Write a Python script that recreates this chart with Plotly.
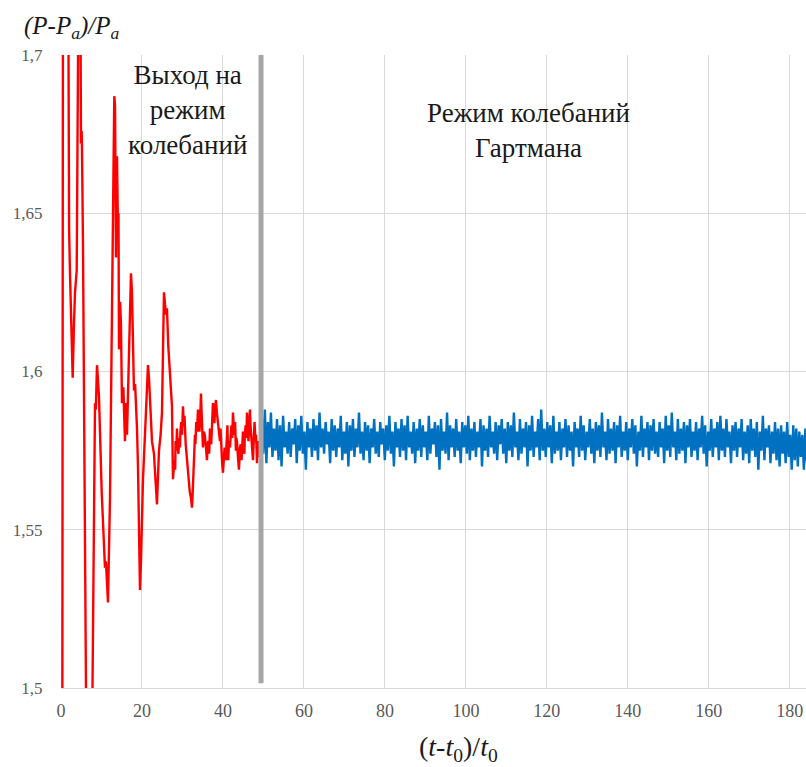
import plotly.graph_objects as go

# ---------------- data ----------------
# transient ("Выход на режим колебаний") part, red
red_t = [0.2, 0.6, 1.2, 1.73, 2.0, 2.22, 2.5, 2.89, 3.2, 3.46, 3.88, 4.2, 4.6, 4.94, 5.1, 5.19,
         5.43, 6.17, 6.67, 7.41, 7.78, 8.40, 8.6, 8.89, 9.1, 9.38, 10.05, 10.86, 11.1, 11.36,
         11.60, 12.10, 12.59, 12.9, 13.16, 13.35, 13.58, 13.83, 14.07, 14.2, 14.32, 14.6, 14.81,
         15.06, 15.4, 15.80, 16.05, 16.30, 16.79, 17.28, 17.53, 17.8, 18.02, 18.3, 18.52, 18.77,
         19.01, 19.51, 19.75, 20.25, 20.74, 21.1, 21.48, 21.73, 22.1, 22.47, 22.96, 23.3, 23.70,
         24.20, 24.6, 24.94, 25.43, 25.93, 26.17, 26.5, 26.91, 27.41, 27.65,
         28.0, 28.2, 28.3, 28.5, 28.64, 28.8, 29.0, 29.2, 29.38, 29.5, 29.7, 29.9, 30.12, 30.3,
         30.4, 30.5, 30.62, 30.8, 31.0, 31.2, 31.36, 31.6, 31.8, 32.1, 32.35, 32.5, 32.7, 32.9,
         33.09, 33.2, 33.4, 33.6, 33.83, 34.0, 34.2, 34.4, 34.57, 34.7, 34.8, 34.9, 35.06, 35.3,
         35.5, 35.8, 36.05, 36.2, 36.4, 36.6, 36.79, 36.9, 37.1, 37.3, 37.53, 37.7, 37.9, 38.1,
         38.27, 38.5, 38.7, 39.0, 39.26, 39.4, 39.6, 39.8, 40.0, 40.2, 40.4, 40.7, 40.99, 41.1,
         41.3, 41.5, 41.73, 41.9, 42.1, 42.3, 42.47, 42.7, 42.9, 43.0, 43.2, 43.3, 43.46, 43.7,
         43.95, 44.2, 44.4, 44.6, 44.94, 45.1, 45.3, 45.4, 45.6, 45.8, 45.93, 46.1, 46.3, 46.5,
         46.67, 46.8, 47.0, 47.2, 47.41, 47.6, 47.8, 48.0, 48.15, 48.3, 48.40, 48.6, 48.8, 49.0,
         49.2]
red_p = [1.30, 1.90, 1.95, 1.70, 1.645, 1.631, 1.620, 1.598, 1.615, 1.625, 1.632, 1.75, 1.78,
         1.672, 1.676, 1.670, 1.64, 1.50, 1.42, 1.43, 1.50, 1.59, 1.588, 1.602, 1.598, 1.592,
         1.562, 1.538, 1.540, 1.533, 1.527, 1.560, 1.620, 1.660, 1.687, 1.684, 1.636, 1.668,
         1.644, 1.650, 1.607, 1.622, 1.615, 1.590, 1.595, 1.578, 1.590, 1.580, 1.610, 1.631,
         1.625, 1.612, 1.594, 1.596, 1.590, 1.582, 1.570, 1.531, 1.540, 1.566, 1.580, 1.592,
         1.602, 1.598, 1.588, 1.578, 1.574, 1.566, 1.558, 1.575, 1.580, 1.587, 1.625, 1.618,
         1.620, 1.608, 1.600, 1.589, 1.566,
         1.572, 1.569, 1.578, 1.575, 1.582, 1.577, 1.574, 1.579, 1.576, 1.581, 1.584, 1.580,
         1.589, 1.584, 1.583, 1.586, 1.580, 1.577, 1.574, 1.571, 1.567, 1.565, 1.562, 1.560,
         1.557, 1.561, 1.566, 1.571, 1.580, 1.577, 1.584, 1.581, 1.588, 1.583, 1.581, 1.586,
         1.593, 1.588, 1.585, 1.580, 1.576, 1.581, 1.580, 1.576, 1.572, 1.577, 1.578, 1.574,
         1.582, 1.579, 1.577, 1.585, 1.590, 1.584, 1.584, 1.589, 1.591, 1.587, 1.584, 1.580,
         1.578, 1.582, 1.574, 1.571, 1.568, 1.573, 1.576, 1.572, 1.580, 1.583, 1.572, 1.578,
         1.576, 1.580, 1.583, 1.579, 1.587, 1.582, 1.580, 1.584, 1.575, 1.579, 1.578, 1.573,
         1.569, 1.576, 1.577, 1.572, 1.581, 1.576, 1.574, 1.580, 1.583, 1.579, 1.587, 1.582,
         1.578, 1.584, 1.588, 1.583, 1.580, 1.576, 1.572, 1.578, 1.584, 1.579, 1.580, 1.576,
         1.571, 1.577, 1.578, 1.573, 1.575]

# Hartmann oscillation regime, blue (uniform sampling)
blue_t_start = 49.6
blue_dt = 0.375
blue_p = [
    1.586, 1.574, 1.588, 1.571, 1.584, 1.576, 1.587, 1.573, 1.582, 1.575, 1.585, 1.572, 1.583, 1.570, 1.586, 1.576, 1.581, 1.574, 1.584, 1.573,
    1.582, 1.577, 1.585, 1.571, 1.583, 1.575, 1.586, 1.574, 1.581, 1.569, 1.584, 1.576, 1.582, 1.573, 1.585, 1.575, 1.583, 1.572, 1.587, 1.576,
    1.582, 1.574, 1.584, 1.577, 1.581, 1.571, 1.585, 1.575, 1.583, 1.573, 1.582, 1.576, 1.586, 1.572, 1.581, 1.574, 1.584, 1.570, 1.583, 1.575,
    1.585, 1.573, 1.582, 1.576, 1.587, 1.574, 1.581, 1.572, 1.584, 1.575, 1.583, 1.571, 1.582, 1.576, 1.585, 1.574, 1.581, 1.573, 1.584, 1.577,
    1.582, 1.572, 1.583, 1.575, 1.586, 1.574, 1.581, 1.570, 1.584, 1.576, 1.582, 1.573, 1.585, 1.575, 1.583, 1.572, 1.586, 1.576, 1.581, 1.574,
    1.584, 1.571, 1.582, 1.575, 1.585, 1.573, 1.583, 1.576, 1.581, 1.572, 1.586, 1.574, 1.582, 1.577, 1.584, 1.573, 1.583, 1.569, 1.585, 1.575,
    1.581, 1.574, 1.587, 1.572, 1.583, 1.576, 1.582, 1.573, 1.585, 1.575, 1.581, 1.571, 1.584, 1.576, 1.583, 1.574, 1.586, 1.572, 1.582, 1.575,
    1.584, 1.573, 1.581, 1.576, 1.585, 1.570, 1.583, 1.575, 1.582, 1.573, 1.586, 1.576, 1.581, 1.574, 1.584, 1.572, 1.583, 1.577, 1.585, 1.574,
    1.582, 1.571, 1.584, 1.575, 1.583, 1.573, 1.587, 1.576, 1.581, 1.572, 1.585, 1.574, 1.582, 1.576, 1.584, 1.570, 1.583, 1.575, 1.586, 1.573,
    1.581, 1.576, 1.585, 1.572, 1.588, 1.575, 1.582, 1.573, 1.584, 1.576, 1.583, 1.571, 1.586, 1.574, 1.581, 1.575, 1.584, 1.572, 1.582, 1.576,
    1.585, 1.573, 1.583, 1.575, 1.581, 1.570, 1.584, 1.576, 1.582, 1.573, 1.586, 1.575, 1.583, 1.572, 1.581, 1.576, 1.585, 1.574, 1.582, 1.571,
    1.584, 1.575, 1.583, 1.573, 1.587, 1.576, 1.581, 1.572, 1.585, 1.574, 1.582, 1.575, 1.584, 1.571, 1.583, 1.576, 1.586, 1.573, 1.581, 1.575,
    1.584, 1.572, 1.582, 1.576, 1.585, 1.574, 1.583, 1.570, 1.581, 1.575, 1.586, 1.573, 1.582, 1.576, 1.584, 1.572, 1.583, 1.575, 1.585, 1.574,
    1.581, 1.573, 1.584, 1.576, 1.582, 1.571, 1.586, 1.575, 1.583, 1.573, 1.587, 1.576, 1.581, 1.572, 1.585, 1.574, 1.582, 1.575, 1.584, 1.571,
    1.583, 1.576, 1.585, 1.573, 1.581, 1.575, 1.584, 1.572, 1.582, 1.576, 1.586, 1.574, 1.583, 1.570, 1.581, 1.575, 1.585, 1.573, 1.582, 1.576,
    1.584, 1.572, 1.586, 1.575, 1.582, 1.573, 1.585, 1.576, 1.581, 1.571, 1.583, 1.575, 1.584, 1.573, 1.582, 1.576, 1.585, 1.572, 1.581, 1.574,
    1.583, 1.571, 1.585, 1.575, 1.582, 1.573, 1.584, 1.569, 1.581, 1.575, 1.586, 1.572, 1.582, 1.576, 1.583, 1.571, 1.581, 1.574, 1.584, 1.572,
    1.582, 1.570, 1.583, 1.574, 1.581, 1.571, 1.584, 1.573, 1.580, 1.569, 1.583, 1.572, 1.582, 1.570, 1.581, 1.573, 1.580, 1.569, 1.582, 1.571,
]
blue_t = [blue_t_start + i * blue_dt for i in range(len(blue_p))]

# boundary between the two regimes
transition_t = 49.4
transition_p = [1.7, 1.5015]

x_range = [0, 184]
y_range = [1.5, 1.7]
x_tick_vals = [0, 20, 40, 60, 80, 100, 120, 140, 160, 180]
x_tick_labels = ["0", "20", "40", "60", "80", "100", "120", "140", "160", "180"]
y_tick_vals = [1.5, 1.55, 1.6, 1.65, 1.7]
y_tick_labels = ["1,5", "1,55", "1,6", "1,65", "1,7"]

label_left = "Выход на<br>режим<br>колебаний"
label_right = "Режим колебаний<br>Гартмана"
y_title = "<i>(P-P<sub>a</sub>)/P<sub>a</sub></i>"
x_title = "(<i>t</i>-<i>t</i><sub>0</sub>)/<i>t</i><sub>0</sub>"

# ---------------- figure ----------------
SERIF = "Times New Roman"
fig = go.Figure()
fig.add_trace(go.Scatter(x=red_t, y=red_p, mode="lines",
                         line=dict(color="#ff0000", width=2.4), showlegend=False))
fig.add_trace(go.Scatter(x=blue_t, y=blue_p, mode="lines",
                         line=dict(color="#0070c0", width=2.4), showlegend=False))
fig.add_trace(go.Scatter(x=[transition_t, transition_t], y=transition_p, mode="lines",
                         line=dict(color="#a6a6a6", width=5), showlegend=False))

fig.update_layout(
    template="none",
    width=806, height=767,
    margin=dict(l=61, r=0, t=55, b=79),
    paper_bgcolor="white", plot_bgcolor="white",
    font=dict(family=SERIF, size=17, color="#595959"),
    xaxis=dict(range=x_range, tickvals=x_tick_vals, ticktext=x_tick_labels,
               showgrid=True, gridcolor="#d9d9d9", gridwidth=1, zeroline=False,
               showline=True, linecolor="#d9d9d9", linewidth=1,
               ticks="outside", ticklen=6, tickcolor="rgba(0,0,0,0)",
               tickfont=dict(size=18, color="#595959", family=SERIF)),
    yaxis=dict(range=y_range, tickvals=y_tick_vals, ticktext=y_tick_labels,
               showgrid=True, gridcolor="#d9d9d9", gridwidth=1, zeroline=False,
               showline=False,
               ticks="outside", ticklen=14, tickcolor="rgba(0,0,0,0)",
               tickfont=dict(size=17, color="#595959", family=SERIF)),
    annotations=[
        dict(text=label_left, xref="x", yref="paper", x=31.3, y=0.995,
             xanchor="center", yanchor="top", showarrow=False, align="center",
             font=dict(size=27, color="#1a1a1a", family=SERIF)),
        dict(text=label_right, xref="x", yref="paper", x=115.4, y=0.935,
             xanchor="center", yanchor="top", showarrow=False, align="center",
             font=dict(size=27, color="#1a1a1a", family=SERIF)),
        dict(text=y_title, xref="paper", yref="paper", x=-0.053, y=1.044,
             xanchor="left", yanchor="middle", showarrow=False,
             font=dict(size=25, color="#1a1a1a", family=SERIF)),
        dict(text=x_title, xref="paper", yref="paper", x=0.533, y=-0.095,
             xanchor="center", yanchor="middle", showarrow=False,
             font=dict(size=28, color="#1a1a1a", family=SERIF)),
    ],
)

fig.write_html("out.html")
